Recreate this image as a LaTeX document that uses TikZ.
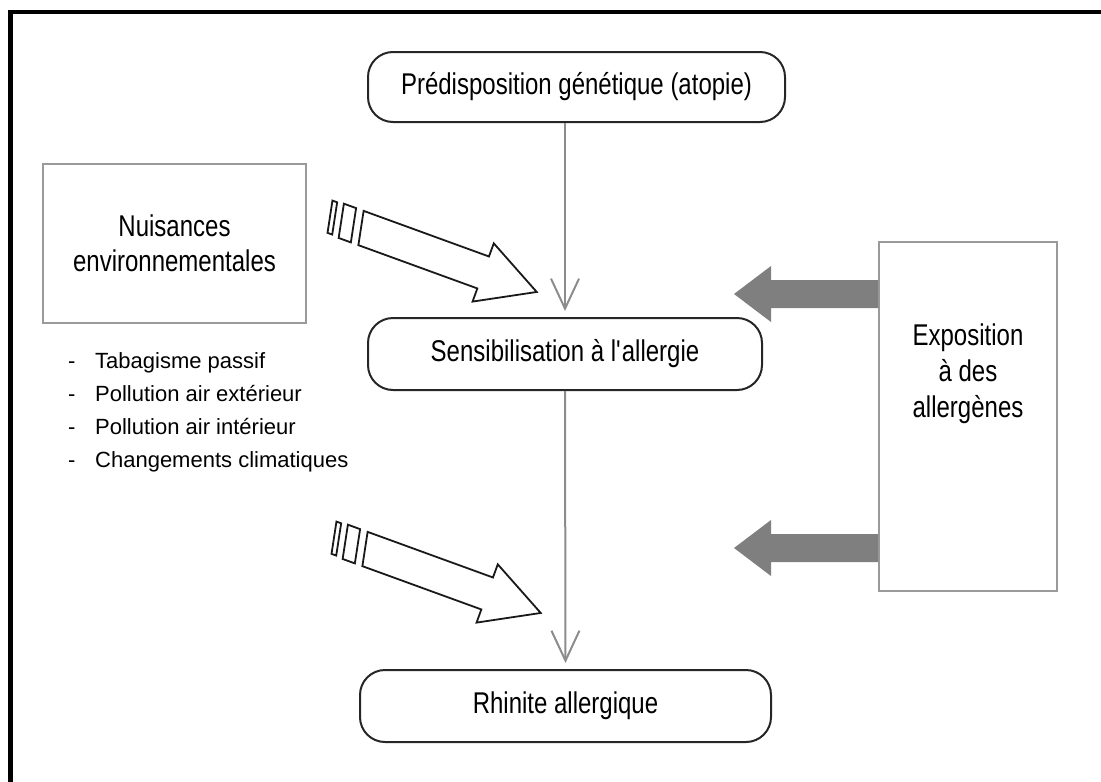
\documentclass[tikz,border=0pt]{standalone}
\usepackage{fontspec}
\setmainfont{Liberation Sans}
\newfontfamily\narrowsans{Liberation Sans}[FakeStretch=0.8]
\usetikzlibrary{arrows.meta}

\definecolor{linegray}{HTML}{8C8C8C}
\definecolor{arrowgray}{HTML}{7F7F7F}
\definecolor{boxgray}{HTML}{9A9A9A}

\tikzset{
  stage/.style={draw=black!85, line width=2pt, rounded corners=25pt,
    minimum height=70pt, font=\narrowsans\fontsize{30}{35}\selectfont},
  factor/.style={draw=boxgray, line width=2pt, font=\narrowsans\fontsize{30}{35}\selectfont},
  flow/.style={draw=linegray, line width=2pt,
    -{Straight Barb[length=30pt,width=28pt,line width=2pt]}, shorten >=6pt},
  pics/allergen arrow/.style={code={
    \fill[arrowgray] (0,-14) -- (-107,-14) -- (-107,-28) -- (-144,0)
      -- (-107,28) -- (-107,14) -- (0,14) -- cycle;
  }},
  pics/smoke arrow/.style={code={
    \begin{scope}[draw=black!90, line width=1.8pt, line join=miter]
      \draw (-3.4,-17) -- (130,-17) -- (130,-31) -- (187,0) -- (130,31)
        -- (130,17) -- (3.4,17) -- cycle;
      \draw (-24.4,-17) -- (-11.4,-17) -- (-4.6,17) -- (-17.6,17) -- cycle;
      \draw (-36.2,-16) -- (-31.2,-16) -- (-24.8,16) -- (-29.8,16) -- cycle;
    \end{scope}
  }},
}

\begin{document}
\begin{tikzpicture}[x=1pt, y=-1pt]

        \useasboundingbox (0,0) rectangle (1101,782);

        % frame
        \draw[line width=4.5pt] (10.5,782) -- (10.5,12) -- (1101,12);

        % main chain
        \node[stage, minimum width=417pt] (pred) at (576.5,87) {Prédisposition génétique (atopie)\hspace{20pt}};
        \node[stage, minimum width=394pt, minimum height=72pt] (sens) at (565,354) {Sensibilisation à l\textquotesingle allergie};
        \node[stage, minimum width=411pt, minimum height=72pt] (rhin) at (565.5,706) {Rhinite allergique};

        \draw[flow] (pred.south -| sens.north) -- (sens.north);
        \draw[flow] (sens.south) -- (rhin.north);

        % environment
        \node[factor, minimum width=263pt, minimum height=159pt, align=center] (nuis) at (174.5,243.5) {Nuisances\\environnementales};

        \node[anchor=north west, inner sep=0pt, align=left, font=\fontsize{22}{33}\selectfont] (risques) at (68,352)
          {\makebox[27pt][l]{-}Tabagisme passif\\
           \makebox[27pt][l]{-}Pollution air extérieur\\
           \makebox[27pt][l]{-}Pollution air intérieur\\
           \makebox[27pt][l]{-}Changements climatiques};

        \pic[rotate=-20] at (361,228) {smoke arrow};
        \pic[rotate=-20] at (365,549) {smoke arrow};

        % allergens
        \node[factor, minimum width=178pt, minimum height=349pt] (expo) at (968,416.5) {};
        \node[align=center, font=\narrowsans\fontsize{30}{36}\selectfont] (expotxt) at (968,374) {Exposition\\à des\\allergènes};

        \pic at (expo.west |- 0,294) {allergen arrow};
        \pic at (expo.west |- 0,548) {allergen arrow};

      \end{tikzpicture}
\end{document}
